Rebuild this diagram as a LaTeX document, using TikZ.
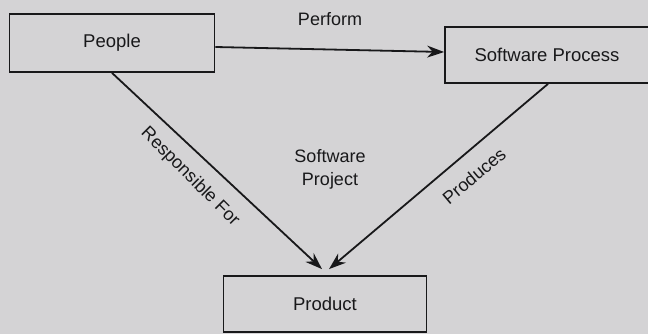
\documentclass[tikz,border=0pt]{standalone}
\usepackage{fontspec}
\setmainfont{Liberation Sans}
\usetikzlibrary{arrows.meta}
\definecolor{paper}{RGB}{212,211,213}
\definecolor{ink}{RGB}{24,24,26}
\tikzset{
  entity/.style={draw=ink, line width=1.8pt, fill=paper, minimum height=58pt,
    minimum width=205pt, inner sep=0pt, font=\fontsize{18.5}{22}\selectfont, text=ink},
  link/.style={draw=ink, line width=1.8pt, -{Stealth[length=17pt,width=12pt]}},
  lbl/.style={font=\fontsize{18}{23}\selectfont, text=ink, inner sep=0pt, align=center}
}
\begin{document}
\begin{tikzpicture}[x=1pt,y=-1pt]
  \useasboundingbox (0,0) rectangle (648,334);
  \clip (0,0) rectangle (648,334);
  \fill[paper] (0,0) rectangle (648,334);

  % entities
  \node[entity] (people) at (112,43) {People};
  \node[entity, minimum height=56pt, minimum width=208pt] (sp) at (549,55) {\hspace*{-4pt}Software Process};
  \node[entity, minimum height=56pt, minimum width=203pt] (product) at (325,304) {Product};

  % relations
  \draw[link] ([yshift=-4pt]people.east) -- ([yshift=3pt]sp.west);
  \draw[link] (people.south) -- ([xshift=-3pt,yshift=6pt]product.north);
  \draw[link] ([xshift=-1pt]sp.south) -- ([xshift=4pt,yshift=6pt]product.north);

  % labels
  \node[lbl] (perform) at (330,19) {Perform};
  \node[lbl, rotate=-45] (resp) at (190,177) {Responsible For};
  \node[lbl, rotate=40] (prod) at (474,176) {Produces};
  \node[lbl] (project) at (330,169) {Software\\Project};
\end{tikzpicture}
\end{document}
